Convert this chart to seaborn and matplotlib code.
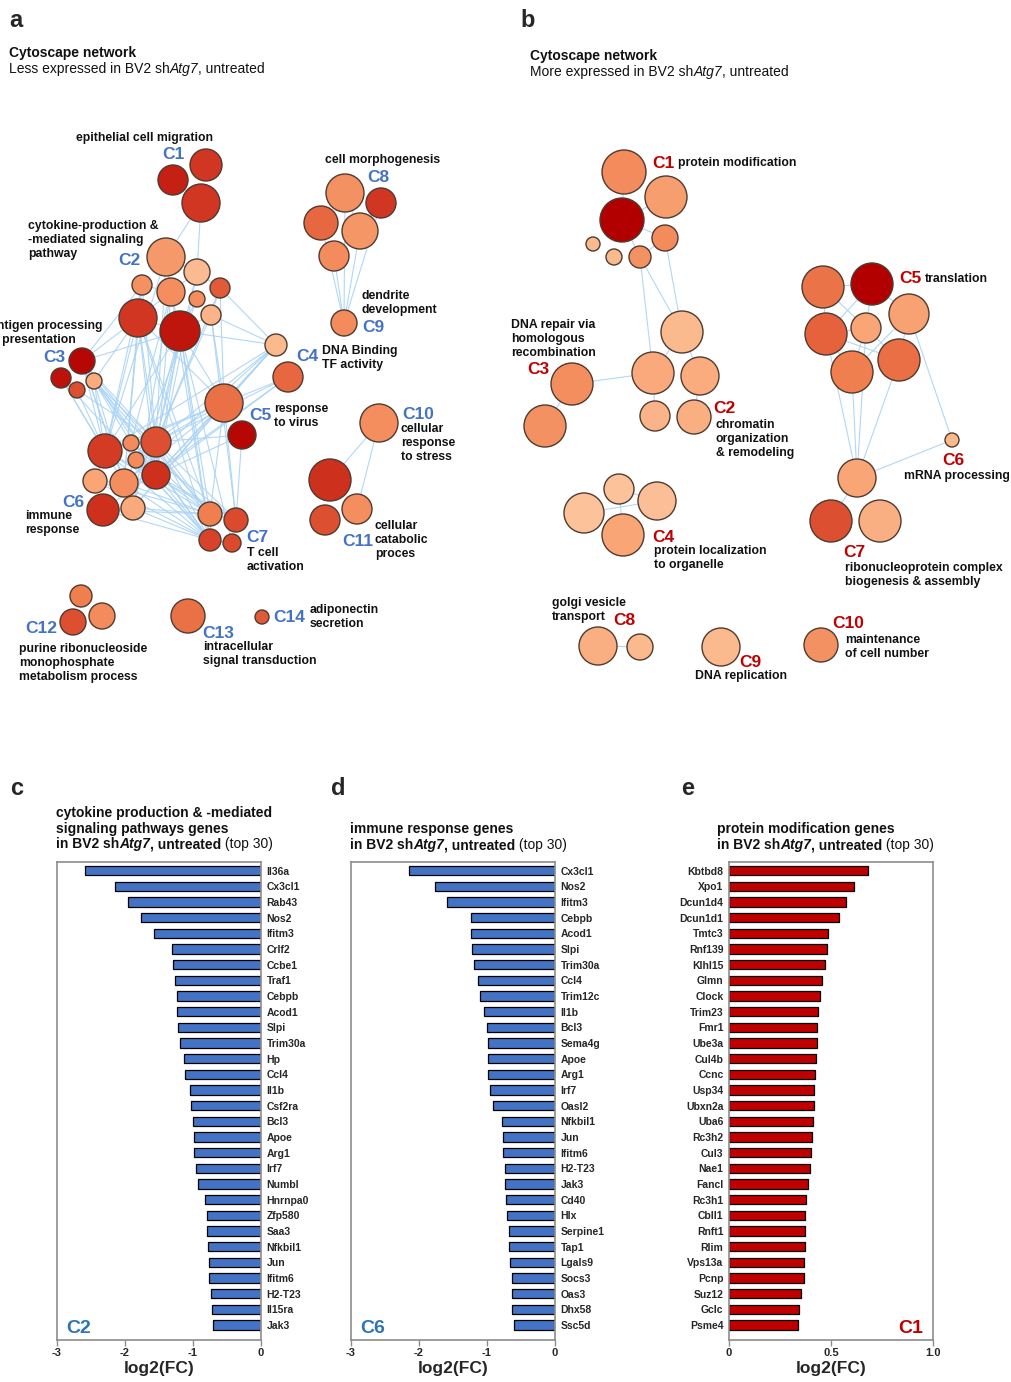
import numpy as np
import pandas as pd
import matplotlib
matplotlib.use("Agg")
import matplotlib.pyplot as plt
from matplotlib.collections import LineCollection
from matplotlib.colors import LinearSegmentedColormap
import seaborn as sns

sns.set_theme(style="white")
plt.rcParams['font.family'] = ['Liberation Sans', 'DejaVu Sans']
NARROW = ['Liberation Sans Narrow', 'Liberation Sans', 'DejaVu Sans']

# ---------------- network a (less expressed) ----------------
# node centre (px), radius (px), colour level 0 = pale ... 1 = dark red
a_x = [173, 206, 201, 166, 197, 142, 171, 197, 220, 211, 138, 180,
       82, 61, 77, 94, 276, 288, 224, 242,
       105, 131, 156, 136, 156, 95, 124, 103, 133,
       210, 236, 210, 232,
       345, 381, 321, 360, 334, 344, 379, 330, 325, 357,
       81, 102, 73, 188, 262]
a_y = [180, 165, 203, 257, 272, 285, 292, 299, 288, 315, 318, 331,
       361, 378, 390, 381, 345, 377, 403, 435,
       451, 443, 442, 460, 475, 481, 483, 510, 508,
       514, 520, 540, 543,
       193, 203, 223, 231, 256, 323, 423, 480, 520, 509,
       596, 616, 622, 616, 617]
a_r = [15, 16, 19, 19, 13, 10, 14, 8, 10, 10, 19, 20,
       13, 10, 8, 8, 11, 15, 19, 14,
       17, 8, 15, 8, 14, 12, 14, 16, 12,
       12, 12, 11, 9,
       19, 15, 17, 18, 15, 13, 19, 21, 15, 15,
       11, 13, 13, 17, 7]
a_level = [0.88, 0.8, 0.8, 0.33, 0.1, 0.38, 0.4, 0.4, 0.65, 0.15, 0.8, 0.92,
           0.97, 0.93, 0.7, 0.2, 0.12, 0.6, 0.56, 0.97,
           0.78, 0.42, 0.7, 0.42, 0.82, 0.25, 0.4, 0.82, 0.22,
           0.5, 0.72, 0.75, 0.72,
           0.38, 0.8, 0.6, 0.35, 0.42, 0.42, 0.4, 0.82, 0.7, 0.4,
           0.5, 0.42, 0.7, 0.56, 0.66]
a_edges = [(3, 4), (3, 6), (4, 6), (5, 6), (4, 8), (6, 10), (6, 11), (7, 11), (9, 11), (10, 11), (8, 9),
           (2, 3), (2, 4),
           (10, 12), (10, 15), (11, 12), (5, 12),
           (8, 16), (9, 16), (11, 16),
           (11, 18), (10, 18), (9, 18), (8, 18),
           (10, 20), (10, 22), (10, 24), (10, 26), (11, 20), (11, 22), (11, 24), (11, 28),
           (6, 21), (5, 20), (4, 24), (9, 22), (7, 23), (3, 20), (3, 22), (5, 22), (5, 26),
           (6, 24), (6, 28), (8, 22), (4, 22),
           (10, 29), (11, 29), (11, 31), (9, 30), (6, 31), (10, 31), (11, 32),
           (12, 20), (15, 21), (15, 26), (13, 20), (14, 22), (12, 22), (12, 24), (12, 26),
           (12, 28), (13, 26), (15, 20), (15, 22), (14, 20),
           (15, 29), (12, 31), (15, 31), (12, 29), (13, 31),
           (16, 18), (17, 18), (16, 22), (16, 24), (16, 28), (17, 27), (16, 20), (16, 26),
           (17, 24), (17, 22),
           (18, 20), (18, 22), (18, 24), (18, 26), (18, 28), (18, 21), (19, 24), (19, 22),
           (18, 29), (18, 30), (19, 30),
           (20, 29), (20, 31), (22, 29), (24, 29), (24, 31), (26, 29), (26, 31), (27, 31),
           (28, 29), (28, 31), (21, 30), (25, 29), (23, 31), (20, 30), (22, 31), (22, 30),
           (24, 30), (21, 29), (27, 29), (25, 31),
           (20, 21), (21, 22), (22, 24), (20, 25), (25, 26), (26, 24), (27, 28), (23, 26),
           (29, 30), (29, 31), (31, 32),
           (33, 38), (34, 38), (35, 38), (36, 38), (37, 38), (33, 36), (34, 36),
           (39, 40), (39, 42)]
a_tags = ["C1", "C2", "C3", "C4", "C5", "C6", "C7", "C8", "C9", "C10", "C11", "C12", "C13", "C14"]
a_tag_x = [162, 118, 43, 296, 249, 62, 246, 367, 362, 402, 342, 25, 202, 273]
a_tag_y = [154, 260, 357, 356, 415, 502, 537, 177, 327, 414, 541, 628, 633, 617]
a_terms = ["epithelial cell migration", "cytokine-production &\n-mediated signaling\npathway",
           "antigen processing\n& presentation", "DNA Binding\nTF activity", "response\nto virus",
           "immune\nresponse", "T cell\nactivation", "cell morphogenesis", "dendrite\ndevelopment",
           "cellular\nresponse\nto stress", "cellular\ncatabolic\nproces",
           "purine ribonucleoside\nmonophosphate\nmetabolism process",
           "intracellular\nsignal transduction", "adiponectin\nsecretion"]
a_term_x = [76, 28, -10, 322, 274, 25, 247, 325, 362, 401, 375, 19, 203, 310]
a_term_y = [138, 240, 333, 358, 416, 523, 560, 160, 303, 443, 540, 663, 654, 617]

# ---------------- network b (more expressed) ----------------
b_x = [624, 666, 622, 665, 593, 614, 640,
       682, 653, 700, 655, 694,
       572, 545,
       619, 657, 584, 623,
       823, 872, 909, 826, 866, 852, 899,
       952,
       857, 831, 880,
       598, 640, 721, 821]
b_y = [172, 197, 220, 238, 244, 257, 257,
       332, 373, 376, 416, 417,
       384, 426,
       489, 501, 513, 535,
       287, 284, 314, 334, 328, 372, 360,
       440,
       478, 521, 521,
       646, 647, 647, 645]
b_r = [22, 21, 22, 13, 7, 8, 11,
       21, 21, 19, 15, 17,
       21, 21,
       15, 19, 20, 21,
       21, 21, 20, 21, 15, 21, 21,
       7,
       19, 21, 21,
       19, 13, 19, 17]
b_level = [0.42, 0.3, 1.0, 0.42, 0.12, 0.12, 0.38,
           0.12, 0.22, 0.2, 0.15, 0.18,
           0.4, 0.38,
           0.05, 0.08, 0.05, 0.25,
           0.55, 1.0, 0.28, 0.62, 0.25, 0.5, 0.57,
           0.12,
           0.25, 0.7, 0.18,
           0.18, 0.12, 0.12, 0.38]
b_edges = [(0, 2), (1, 2), (2, 3), (3, 6), (2, 6), (6, 8), (6, 7), (3, 7),
           (7, 8), (7, 9), (8, 10), (9, 11), (12, 8), (12, 13),
           (18, 19), (18, 21), (18, 22), (19, 22), (19, 20), (21, 22), (21, 23), (22, 23),
           (22, 24), (20, 24), (21, 24), (19, 21), (20, 23),
           (23, 26), (24, 26), (21, 26), (20, 25), (26, 25), (26, 27), (22, 26),
           (14, 15), (16, 15), (14, 17), (29, 30)]
b_tags = ["C1", "C2", "C3", "C4", "C5", "C6", "C7", "C8", "C9", "C10"]
b_tag_x = [652, 713, 527, 652, 899, 942, 843, 613, 739, 832]
b_tag_y = [163, 408, 369, 537, 278, 460, 552, 620, 662, 623]
b_terms = ["protein modification", "chromatin\norganization\n& remodeling",
           "DNA repair via\nhomologous\nrecombination", "protein localization\nto organelle",
           "translation", "mRNA processing", "ribonucleoprotein complex\nbiogenesis & assembly",
           "golgi vesicle\ntransport", "DNA replication", "maintenance\nof cell number"]
b_term_x = [678, 716, 511, 654, 925, 904, 845, 552, 695, 845]
b_term_y = [163, 439, 339, 558, 279, 476, 575, 610, 676, 647]

# ---------------- bar charts ----------------
c_genes = ["Il36a", "Cx3cl1", "Rab43", "Nos2", "Ifitm3", "Crlf2", "Ccbe1", "Traf1", "Cebpb", "Acod1",
           "Slpi", "Trim30a", "Hp", "Ccl4", "Il1b", "Csf2ra", "Bcl3", "Apoe", "Arg1", "Irf7",
           "Numbl", "Hnrnpa0", "Zfp580", "Saa3", "Nfkbil1", "Jun", "Ifitm6", "H2-T23", "Il15ra", "Jak3"]
c_fc = [-2.59, -2.14, -1.96, -1.76, -1.58, -1.31, -1.30, -1.26, -1.24, -1.23,
        -1.22, -1.19, -1.13, -1.12, -1.04, -1.03, -1.00, -0.99, -0.99, -0.95,
        -0.92, -0.83, -0.80, -0.79, -0.78, -0.77, -0.76, -0.74, -0.72, -0.71]
d_genes = ["Cx3cl1", "Nos2", "Ifitm3", "Cebpb", "Acod1", "Slpi", "Trim30a", "Ccl4", "Trim12c", "Il1b",
           "Bcl3", "Sema4g", "Apoe", "Arg1", "Irf7", "Oasl2", "Nfkbil1", "Jun", "Ifitm6", "H2-T23",
           "Jak3", "Cd40", "Hlx", "Serpine1", "Tap1", "Lgals9", "Socs3", "Oas3", "Dhx58", "Ssc5d"]
d_fc = [-2.14, -1.77, -1.59, -1.24, -1.23, -1.22, -1.19, -1.13, -1.10, -1.04,
        -1.00, -0.99, -0.99, -0.99, -0.95, -0.91, -0.78, -0.77, -0.76, -0.74,
        -0.73, -0.72, -0.70, -0.68, -0.67, -0.66, -0.63, -0.63, -0.63, -0.61]
e_genes = ["Kbtbd8", "Xpo1", "Dcun1d4", "Dcun1d1", "Tmtc3", "Rnf139", "Klhl15", "Glmn", "Clock", "Trim23",
           "Fmr1", "Ube3a", "Cul4b", "Ccnc", "Usp34", "Ubxn2a", "Uba6", "Rc3h2", "Cul3", "Nae1",
           "Fancl", "Rc3h1", "Cbll1", "Rnft1", "Rlim", "Vps13a", "Pcnp", "Suz12", "Gclc", "Psme4"]
e_fc = [0.683, 0.611, 0.574, 0.538, 0.484, 0.479, 0.472, 0.456, 0.444, 0.435,
        0.430, 0.430, 0.426, 0.422, 0.418, 0.417, 0.410, 0.408, 0.400, 0.395,
        0.386, 0.377, 0.373, 0.371, 0.371, 0.368, 0.366, 0.353, 0.341, 0.338]
neg_ticks = [-3, -2, -1, 0]
neg_tick_labels = ["-3", "-2", "-1", "0"]
pos_ticks = [0, 0.5, 1.0]
pos_tick_labels = ["0", "0.5", "1.0"]

BLUE_TAG = "#4473c5"
RED_TAG = "#c00000"
node_cmap = LinearSegmentedColormap.from_list(
    "nodes", ["#fdcaa4", "#f9a576", "#f07f4f", "#d9432a", "#b20000"])

W, H = 1012, 1382
fig = plt.figure(figsize=(W / 100, H / 100), dpi=100)
canvas = fig.add_axes([0, 0, 1, 1])
canvas.axis("off")


def draw_network(xs, ys, rs, levels, edges):
    nodes = pd.DataFrame({"x": xs, "y": ys, "r": rs, "level": levels})
    nodes["s"] = (2 * nodes["r"] * 0.72) ** 2
    segs = [[(xs[i], ys[i]), (xs[j], ys[j])] for i, j in edges]
    canvas.add_collection(LineCollection(segs, colors="#a9d3f5", linewidths=0.8, alpha=0.9, zorder=1))
    smin, smax = nodes["s"].min(), nodes["s"].max()
    sns.scatterplot(data=nodes, x="x", y="y", hue="level", palette=node_cmap, hue_norm=(0, 1),
                    size="s", sizes=(smin, smax), size_norm=(smin, smax),
                    edgecolor="#4f3b2f", linewidth=1.0, legend=False, ax=canvas, zorder=3)


draw_network(a_x, a_y, a_r, a_level, a_edges)
draw_network(b_x, b_y, b_r, b_level, b_edges)
canvas.set_xlim(0, W)
canvas.set_ylim(H, 0)
canvas.axis("off")


def block(x, yc, text, pitch=14, **kw):
    # one text per line so the lines sit on a fixed pitch
    lines = text.split("\n")
    for i, ln in enumerate(lines):
        canvas.text(x, yc + (i - (len(lines) - 1) / 2) * pitch, ln, va="center", ha="left", **kw)


for t, x, y in zip(a_tags, a_tag_x, a_tag_y):
    canvas.text(x, y, t, color=BLUE_TAG, fontsize=12.5, fontweight="bold", va="center", ha="left")
for t, x, y in zip(a_terms, a_term_x, a_term_y):
    block(x, y, t, fontsize=8.8, fontweight="bold", color="#111111")
for t, x, y in zip(b_tags, b_tag_x, b_tag_y):
    canvas.text(x, y, t, color=RED_TAG, fontsize=12.5, fontweight="bold", va="center", ha="left")
for t, x, y in zip(b_terms, b_term_x, b_term_y):
    block(x, y, t, fontsize=8.8, fontweight="bold", color="#111111")

renderer = fig.canvas.get_renderer()


def rich(x, y, parts, size):
    # parts: (text, weight, style) placed one after another on a common baseline
    inv = canvas.transData.inverted()
    for s, w, st in parts:
        t = canvas.text(x, y, s, fontsize=size, fontweight=w, fontstyle=st,
                        va="baseline", ha="left", color="#111111")
        bb = t.get_window_extent(renderer)
        x = inv.transform((bb.x1, bb.y0))[0]


# panel letters and headers
for letter, x, y in [("a", 9, 27), ("b", 520, 27), ("c", 10, 795), ("d", 331, 795), ("e", 681, 795)]:
    canvas.text(x, y, letter, fontsize=17, fontweight="bold", va="baseline", ha="left")

rich(9, 57, [("Cytoscape network", "bold", "normal")], 10)
rich(9, 73, [("Less expressed in BV2 sh", "normal", "normal"), ("Atg7", "normal", "italic"),
             (", untreated", "normal", "normal")], 10)
rich(530, 60, [("Cytoscape network", "bold", "normal")], 10)
rich(530, 76, [("More expressed in BV2 sh", "normal", "normal"), ("Atg7", "normal", "italic"),
               (", untreated", "normal", "normal")], 10)

last_line = [("in BV2 sh", "bold", "normal"), ("Atg7", "bold", "italic"),
             (", untreated", "bold", "normal"), (" (top 30)", "normal", "normal")]
rich(56, 817, [("cytokine production & -mediated", "bold", "normal")], 10)
rich(56, 833, [("signaling pathways genes", "bold", "normal")], 10)
rich(56, 848, last_line, 10)
rich(350, 833, [("immune response genes", "bold", "normal")], 10)
rich(350, 849, last_line, 10)
rich(717, 833, [("protein modification genes", "bold", "normal")], 10)
rich(717, 849, last_line, 10)


def bar_panel(left, genes, vals, color, xlim, ticks, tick_labels, labels_right, tag, tag_color, tag_x):
    ax = fig.add_axes([left / W, 1 - 1340 / H, 204 / W, 478 / H])
    sns.barplot(x=vals, y=genes, orient="h", color=color, saturation=1, width=0.6,
                edgecolor="black", linewidth=0.9, ax=ax)
    ax.set_xlim(*xlim)
    ax.set_ylim(29.95, -0.55)
    for sp in ax.spines.values():
        sp.set_visible(True)
        sp.set_color("#8c8c8c")
        sp.set_linewidth(1.2)
    ax.set_yticks(range(len(genes)))
    ax.set_yticklabels(genes, fontsize=7.5, fontweight="bold", family=NARROW)
    if labels_right:
        ax.yaxis.tick_right()
    ax.tick_params(axis="y", length=0, pad=4)
    ax.set_xticks(ticks)
    ax.set_xticklabels(tick_labels, fontsize=8, fontweight="bold")
    ax.tick_params(axis="x", bottom=True, length=4, width=1, color="#8c8c8c", pad=2)
    ax.set_xlabel("log2(FC)", fontsize=12.5, fontweight="bold", labelpad=2)
    ax.set_ylabel("")
    ax.text(tag_x, 29.2, tag, color=tag_color, fontsize=14, fontweight="bold", va="center", ha="left")
    return ax


bar_panel(57, c_genes, c_fc, "#4472c4", (-3, 0), neg_ticks, neg_tick_labels, True, "C2", "#2e75b6", -2.87)
bar_panel(351, d_genes, d_fc, "#4472c4", (-3, 0), neg_ticks, neg_tick_labels, True, "C6", "#2e75b6", -2.87)
bar_panel(729, e_genes, e_fc, "#c00000", (0, 1.0), pos_ticks, pos_tick_labels, False, "C1", RED_TAG, 0.83)

fig.savefig("out.png", dpi=100)
